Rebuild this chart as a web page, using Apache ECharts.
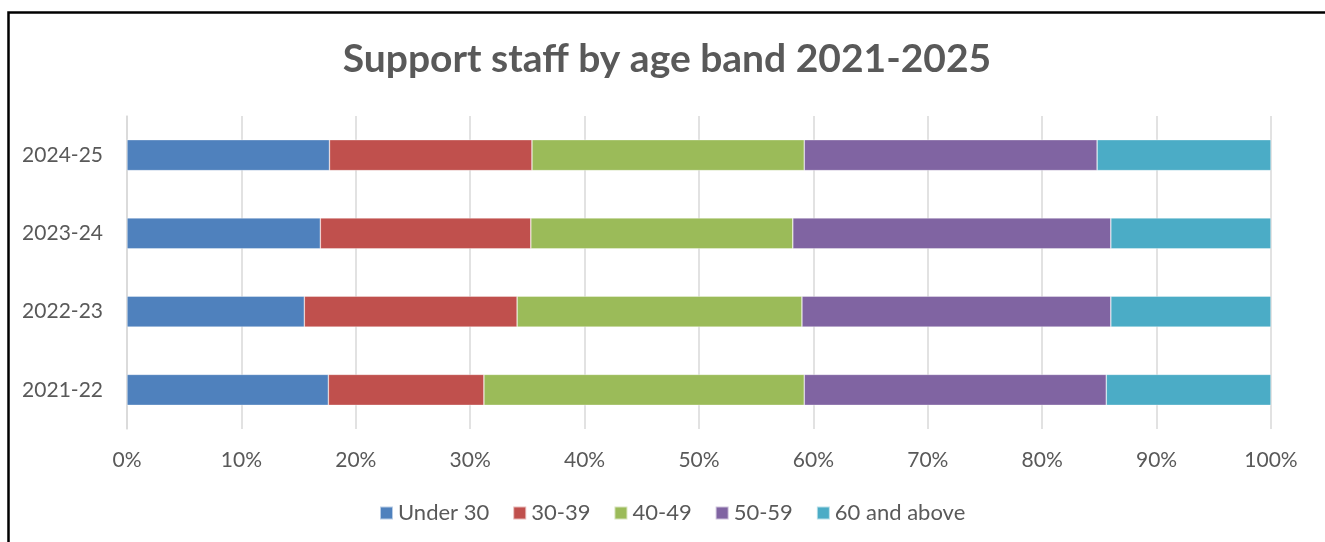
<!DOCTYPE html>
<html>
<head>
<meta charset="utf-8">
<script src="https://cdn.jsdelivr.net/npm/echarts@6/dist/echarts.min.js"></script>
<style>
  html, body { margin: 0; padding: 0; background: #fff; }
  #chart { width: 1325px; height: 542px; }
</style>
</head>
<body>
<div id="chart"></div>
<script>
// School years, bottom to top
const years = ['2021-22', '2022-23', '2023-24', '2024-25'];

// Share of support staff in each age band (%), per year
const under30 = [17.6, 15.5, 16.9, 17.7];
const age30to39 = [13.6, 18.6, 18.4, 17.7];
const age40to49 = [28.0, 24.9, 22.9, 23.8];
const age50to59 = [26.4, 27.0, 27.8, 25.6];
const age60plus = [14.4, 14.0, 14.0, 15.2];

const bandNames = ['Under 30', '30-39', '40-49', '50-59', '60 and above'];
const bandValues = [under30, age30to39, age40to49, age50to59, age60plus];
const bandColors = ['#4F81BD', '#C0504D', '#9BBB59', '#8064A2', '#4BACC6'];

const FONT = 'Lato, "Open Sans", sans-serif';
const TEXT = '#595959';

const chart = echarts.init(document.getElementById('chart'), null, { renderer: 'canvas' });

chart.setOption({
  animation: false,
  backgroundColor: '#fff',
  title: {
    text: 'Support staff by age band 2021-2025',
    left: 662,
    textAlign: 'center',
    top: 35,
    textStyle: { fontFamily: FONT, fontSize: 39, fontWeight: 'bold', color: TEXT }
  },
  legend: {
    data: bandNames,
    left: 379,
    top: 502,
    padding: 0,
    itemWidth: 13,
    itemHeight: 13,
    itemGap: 23,
    icon: 'rect',
    textStyle: { fontFamily: FONT, fontSize: 22, color: TEXT }
  },
  grid: { left: 127, right: 54, top: 116, bottom: 113, containLabel: false },
  xAxis: {
    type: 'value',
    min: 0,
    max: 100,
    interval: 10,
    axisLine: { show: false },
    axisTick: { show: false },
    axisLabel: { formatter: '{value}%', fontFamily: FONT, fontSize: 21, color: TEXT, margin: 21 },
    splitLine: { show: true, lineStyle: { color: '#D9D9D9', width: 1.5 } }
  },
  yAxis: {
    type: 'category',
    data: years,
    axisLine: { show: true, lineStyle: { color: '#D9D9D9', width: 1.5 } },
    axisTick: { show: false },
    axisLabel: { fontFamily: FONT, fontSize: 21, color: TEXT, margin: 24 }
  },
  series: bandNames.map((name, i) => ({
    name,
    type: 'bar',
    stack: 'total',
    barWidth: 31,
    data: bandValues[i],
    itemStyle: { color: bandColors[i], borderColor: 'rgba(255,255,255,0.6)', borderWidth: 0.6 }
  })),
  graphic: [{
    type: 'rect',
    left: 6,
    top: 10,
    shape: { width: 1400, height: 600 },
    style: { fill: 'none', stroke: '#000', lineWidth: 2.5 },
    silent: true,
    z: 100
  }]
});
</script>
</body>
</html>
